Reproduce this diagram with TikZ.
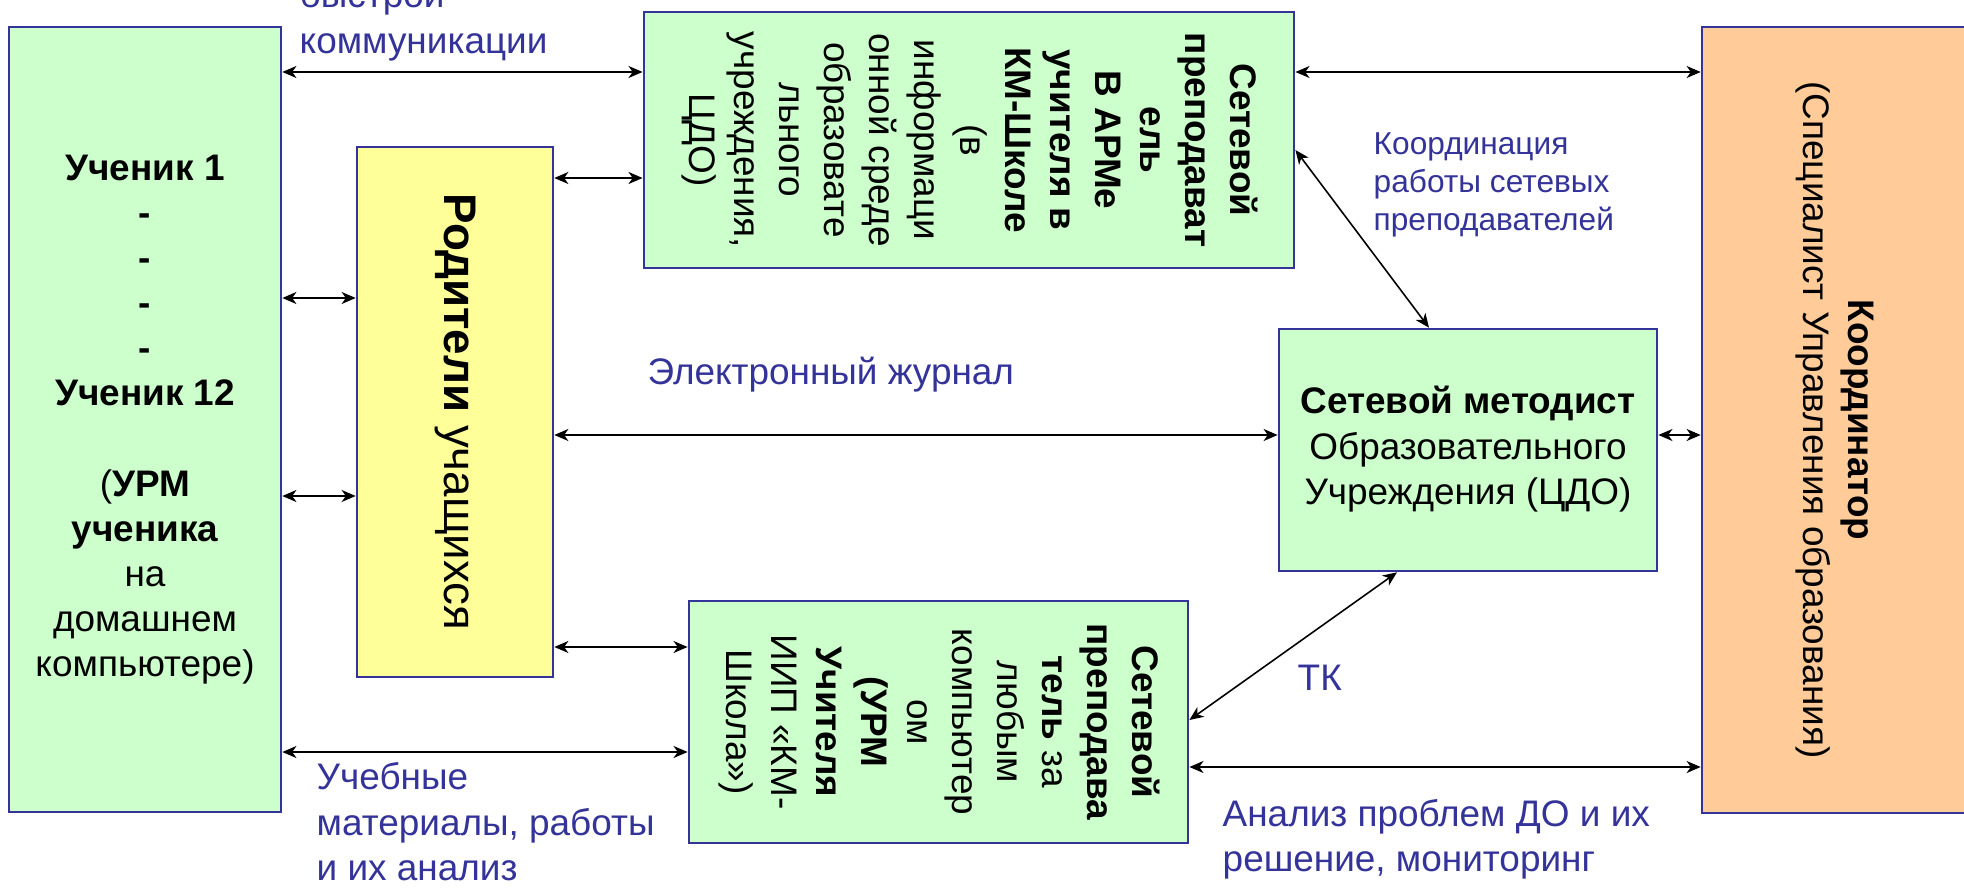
\documentclass[tikz,border=0pt]{standalone}
\usepackage{fontspec}
\setmainfont{Liberation Sans}
\usetikzlibrary{arrows.meta}

\definecolor{boxgreen}{HTML}{CCFFCC}
\definecolor{boxyellow}{HTML}{FFFF99}
\definecolor{boxorange}{HTML}{FFCC99}
\definecolor{boxline}{HTML}{333399}
\definecolor{labelblue}{HTML}{333399}

\tikzset{
  box/.style={draw=boxline, line width=0.7pt, inner sep=0pt},
  link/.style={<->, >={Stealth[length=4pt,width=3.4pt,inset=1.2pt]}, line width=0.6pt},
  note/.style={color=labelblue, inner sep=0pt, anchor=west}
}
\newcommand{\txt}{\fontsize{10.5}{12.8}\selectfont}

\begin{document}
\begin{tikzpicture}[x=0.01cm, y=-0.01cm]
\useasboundingbox (0,0) rectangle (1964,888);

\node[box, fill=boxgreen, minimum width=2.72cm, minimum height=7.85cm] (student) at (145,419.5) {\txt\begin{tabular}{@{}c@{}}
\textbf{Ученик 1} \\
\textbf{-} \\
\textbf{-} \\
\textbf{-} \\
\textbf{-} \\
\textbf{Ученик 12} \\
 \\
(\textbf{УРМ} \\
\textbf{ученика} \\
на \\
домашнем \\
компьютере)
\end{tabular}};

\node[box, fill=boxyellow, minimum width=1.96cm, minimum height=5.3cm] (parents) at (455,412) {\rotatebox{-90}{\fontsize{13}{15.6}\selectfont\textbf{Родители} учащихся}};

\node[box, fill=boxgreen, minimum width=6.5cm, minimum height=2.56cm] (top teacher) at (969,140) {\txt\rotatebox{-90}{\begin{tabular}{@{}c@{}}
\textbf{Сетевой} \\
\textbf{преподават} \\
\textbf{ель} \\
\textbf{В АРМе} \\
\textbf{учителя в} \\
\textbf{КМ-Школе} \\
(в \\
информаци \\
онной среде \\
образовате \\
льного \\
учреждения, \\
ЦДО)
\end{tabular}}};

\node[box, fill=boxgreen, minimum width=4.99cm, minimum height=2.42cm] (bottom teacher) at (938.5,722) {\txt\rotatebox{-90}{\begin{tabular}{@{}c@{}}
\textbf{Сетевой} \\
\textbf{преподава} \\
\textbf{тель} за \\
любым \\
компьютер \\
ом \\
\textbf{(УРМ} \\
\textbf{Учителя} \\
ИИП «КМ- \\
Школа»)
\end{tabular}}};

\node[box, fill=boxgreen, minimum width=3.78cm, minimum height=2.42cm] (methodist) at (1468,450) {\txt\begin{tabular}{@{}c@{}}
\textbf{Сетевой методист} \\
Образовательного \\
Учреждения (ЦДО)
\end{tabular}};

\node[box, fill=boxorange, minimum width=2.66cm, minimum height=7.86cm] (coordinator) at (1835,420) {\txt\rotatebox{-90}{\begin{tabular}{@{}c@{}}
\textbf{Координатор} \\
(Специалист Управления образования)
\end{tabular}}};

% connections
\draw[link] (student.east |- 0,72) -- (top teacher.west |- 0,72);
\draw[link] (top teacher.east |- 0,72) -- (coordinator.west |- 0,72);
\draw[link] (parents.east |- 0,178) -- (top teacher.west |- 0,178);
\draw[link, line width=0.45pt] (top teacher.east |- 0,150) -- (methodist.north -| 1429,0);
\foreach \yy in {298,496}
  \draw[link] (student.east |- 0,\yy) -- (parents.west |- 0,\yy);
\draw[link] (parents.east |- 0,435) -- (methodist.west |- 0,435);
\draw[link] (methodist.east |- 0,435) -- (coordinator.west |- 0,435);
\draw[link] (parents.east |- 0,647) -- (bottom teacher.west |- 0,647);
\draw[link] (student.east |- 0,752) -- (bottom teacher.west |- 0,752);
\draw[link, line width=0.45pt] (bottom teacher.east |- 0,720) -- (methodist.south -| 1397,0);
\draw[link] (bottom teacher.east |- 0,767) -- (coordinator.west |- 0,767);

% labels
\node[note] (fast label) at (299,21.5) {\txt\begin{tabular}{@{}l@{}}
быстрой \\
коммуникации
\end{tabular}};
\node[note] (coordination label) at (1373,185) {\fontsize{9}{10.8}\selectfont\begin{tabular}{@{}l@{}}
Координация \\
работы сетевых \\
преподавателей
\end{tabular}};
\node[note] (journal label) at (647,375) {\txt Электронный журнал};
\node[note] (tk label) at (1297,678) {\txt ТК};
\node[note] (analysis label) at (1222,839.5) {\txt\begin{tabular}{@{}l@{}}
Анализ проблем ДО и их \\
решение, мониторинг
\end{tabular}};
\node[note] (materials label) at (316,826) {\txt\begin{tabular}{@{}l@{}}
Учебные \\
материалы, работы \\
и их анализ
\end{tabular}};
\end{tikzpicture}
\end{document}
